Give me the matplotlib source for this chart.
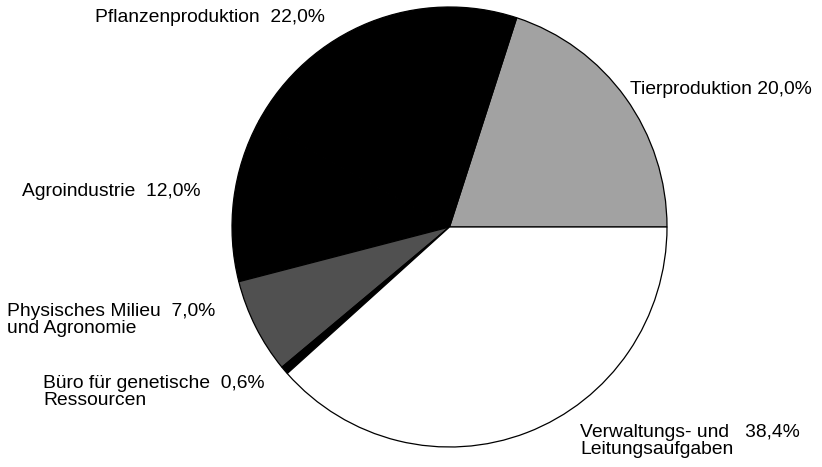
import numpy as np, matplotlib; matplotlib.use("Agg")
import matplotlib.pyplot as plt
plt.rcParams['font.family']=['Liberation Sans','DejaVu Sans']

names=["Tierproduktion","Pflanzenproduktion","Agroindustrie","Physisches Milieu\nund Agronomie",
       "Büro für genetische\nRessourcen","Verwaltungs- und\nLeitungsaufgaben"]
shares=[20.0,22.0,12.0,7.0,0.6,38.4]
colors=['#a2a2a2','#000000','#000000','#505050','#000000','#ffffff']
pct_txt=["20,0%","22,0%","12,0%","7,0%","0,6%","38,4%"]

# label layout in pixel coords (x left, y centre, top-origin)
lab_pos=[(630,90),(95,17),(22,192),(7,320),(43,392),(580,441)]
pct_gap=[" ","  ","  ","  ","  ","   "]

W,H=822,467
sx=220/217.5   # the printed pie is slightly taller than wide
fig=plt.figure(figsize=(W/100,H/100),dpi=100)
ax=fig.add_axes([0,0,1,1])
ax.pie(shares,colors=colors,startangle=0,counterclock=True,radius=220,center=(449.5*sx,H-227),
       wedgeprops=dict(edgecolor='black',linewidth=0.9))
ax.set_aspect('auto');ax.set_xlim(0,W*sx);ax.set_ylim(0,H);ax.axis('off')

for n,p,(x,y),g in zip(names,pct_txt,lab_pos,pct_gap):
    lines=n.split("\n")
    lines[0]=lines[0]+g+p
    fig.text(x/W,1-y/H,"\n".join(lines),fontsize=13.9,ha='left',va='center',linespacing=1.02,color='black')

plt.savefig("out.png",dpi=100);plt.close()
